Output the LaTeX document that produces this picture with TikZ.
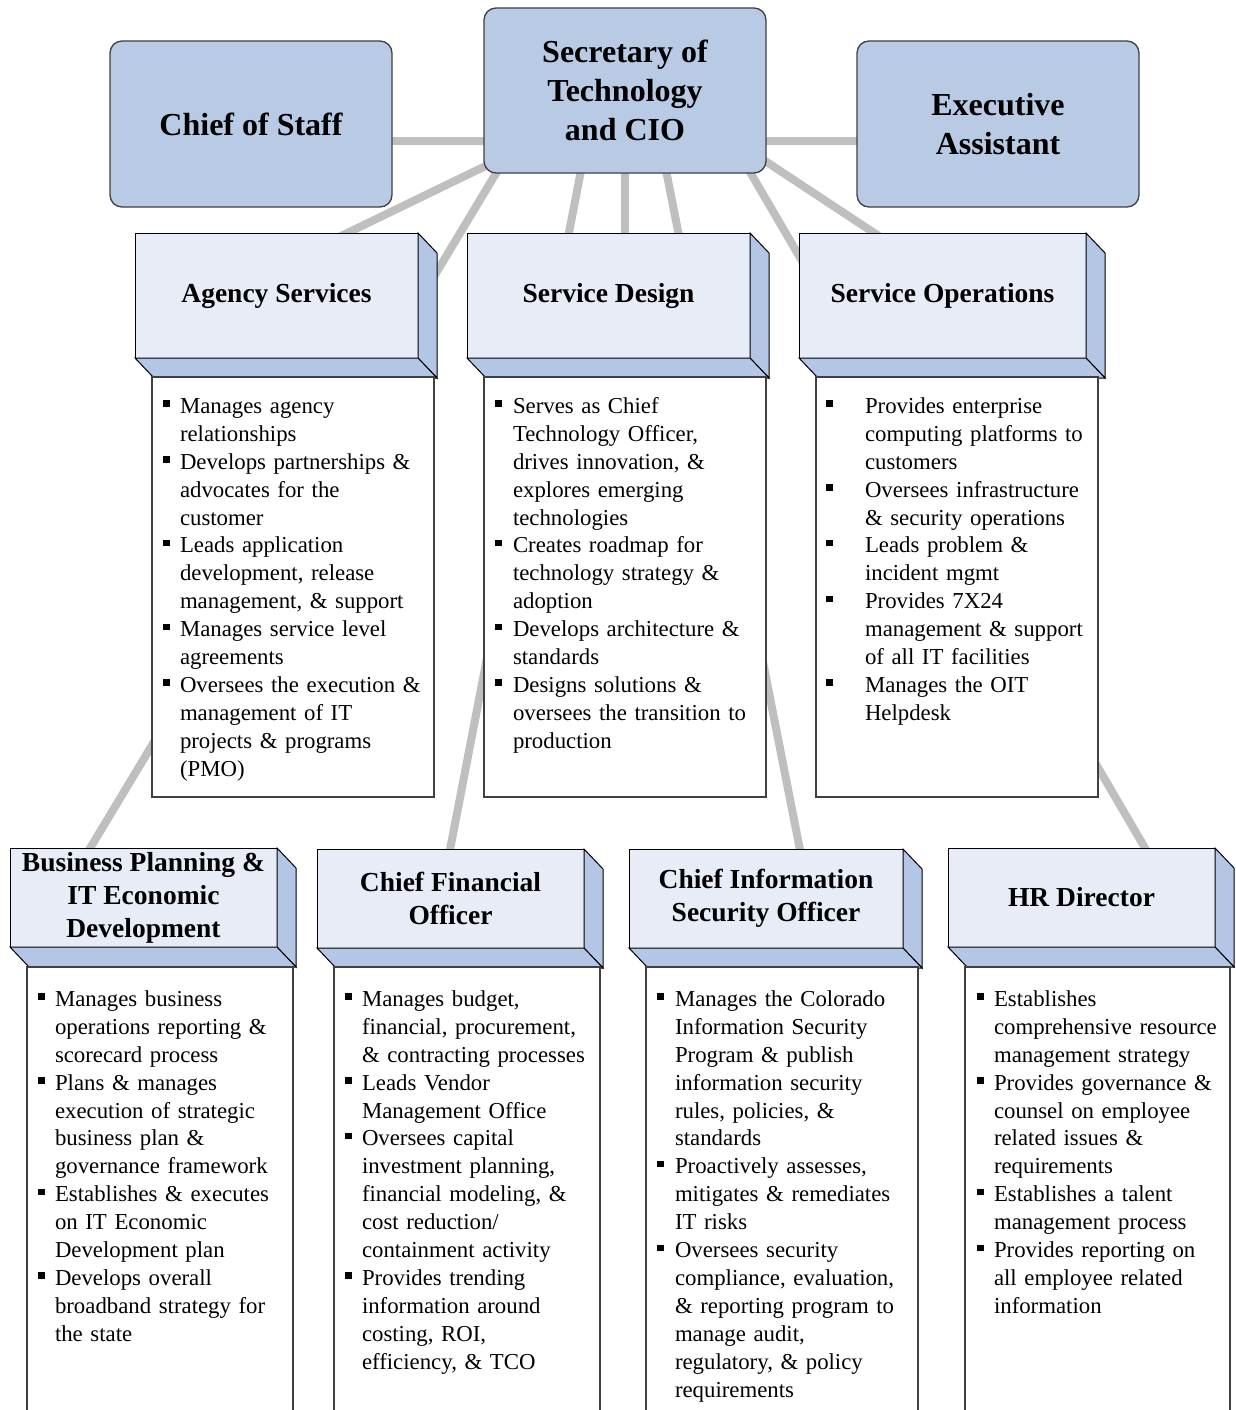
\documentclass[tikz,border=0pt]{standalone}
\usepackage{fontspec}
\setmainfont{Liberation Serif}
\usetikzlibrary{calc}
\definecolor{topfill}{HTML}{B8CAE4}
\definecolor{frontfill}{HTML}{E8ECF7}
\definecolor{sidefill}{HTML}{B3C6E6}
\definecolor{connc}{HTML}{BFBFBF}
\definecolor{edgec}{HTML}{404040}
\newlength\bind
\newcommand\bsq{\raisebox{6.5pt}{\rule{6.5pt}{6.5pt}}}
\newcommand\bitem[1]{\par\noindent\hangindent=\bind\hangafter=1\makebox[\bind][l]{\bsq}\strut#1}
\newcommand\depthfaces[1]{%
  \draw[face] (#1.north east) -- ($(#1.north east)+(19,20)$) -- ($(#1.south east)+(19,20)$) -- (#1.south east) -- cycle;
  \draw[face] (#1.south west) -- ($(#1.south west)+(19,20)$) -- ($(#1.south east)+(19,20)$) -- (#1.south east) -- cycle;}
\begin{document}
\begin{tikzpicture}[x=1pt,y=-1pt,
  conn/.style={draw=connc, line width=8pt},
  topbox/.style={draw=edgec, line width=1.3pt, fill=topfill, rounded corners=12pt, minimum width=282pt, minimum height=166pt, inner sep=0pt, outer sep=0pt, align=center, font=\bfseries\fontsize{32}{39}\selectfont},
  front/.style={draw=black, line width=1pt, fill=frontfill, inner sep=0pt, outer sep=0pt, align=center, font=\bfseries\fontsize{27.5}{33}\selectfont},
  face/.style={draw=black, line width=1pt, fill=sidefill, line join=miter},
  bbox/.style={draw=edgec, line width=1.3pt, fill=white, anchor=north west, inner sep=0pt, outer sep=0pt},
  blist/.style={anchor=north west, inner sep=0pt, outer sep=0pt, text width=320pt, font=\fontsize{22.8}{27.9}\selectfont}
]
\useasboundingbox (0,0) rectangle (1236,1410);
\clip (0,0) rectangle (1236,1410);
\fill[white] (0,0) rectangle (1236,1410);

% connector end points (hidden behind boxes)
\coordinate (h1a) at (380,141);  \coordinate (h1b) at (500,141);
\coordinate (h2a) at (750,141);  \coordinate (h2b) at (870,141);
\coordinate (s1) at (500,159);   \coordinate (e1) at (240,285);
\coordinate (s2) at (504,160);   \coordinate (e2) at (83,860);
\coordinate (s3) at (583,160);   \coordinate (e3) at (448,860);
\coordinate (s4) at (625,160);   \coordinate (e4) at (625,280);
\coordinate (s5) at (664,160);   \coordinate (e5) at (802,860);
\coordinate (s6) at (743,160);   \coordinate (e6) at (1152,860);
\coordinate (s7) at (750,151);   \coordinate (e7) at (950,283);
\draw[conn] (h1a) -- (h1b);
\draw[conn] (h2a) -- (h2b);
\draw[conn] (s1) -- (e1);
\draw[conn] (s2) -- (e2);
\draw[conn] (s3) -- (e3);
\draw[conn] (s4) -- (e4);
\draw[conn] (s5) -- (e5);
\draw[conn] (s6) -- (e6);
\draw[conn] (s7) -- (e7);

% top row
\node[topbox] (cos) at (251,124) {Chief of Staff};
\node[topbox, minimum height=165pt] (sec) at (625,90.5) {Secretary of\\Technology\\and CIO};
\node[topbox] (ea) at (998,124) {Executive\\Assistant};

% middle row
\node[front, minimum width=283pt, minimum height=125pt] (ags) at (276.5,295.5) {Agency Services};
\depthfaces{ags}
\node[front, minimum width=283pt, minimum height=125pt] (sd) at (608.5,295.5) {Service Design};
\depthfaces{sd}
\node[front, minimum width=287pt, minimum height=125pt] (so) at (942.5,295.5) {Service Operations};
\depthfaces{so}

\node[bbox, minimum width=282pt, minimum height=420pt] (agsb) at (152,377) {};
\node[bbox, minimum width=282pt, minimum height=420pt] (sdb) at (484,377) {};
\node[bbox, minimum width=282pt, minimum height=420pt] (sob) at (816,377) {};

\node[blist] (agsl) at (163,385.5) {\raggedright\setlength\parskip{0pt}\setlength\bind{17pt}%
\bitem{Manages agency\newline relationships}%
\bitem{Develops partnerships \&\newline advocates for the\newline customer}%
\bitem{Leads application\newline development, release\newline management, \& support}%
\bitem{Manages service level\newline agreements}%
\bitem{Oversees the execution \&\newline management of IT\newline projects \& programs\newline (PMO)}\par};

\node[blist] (sdl) at (495,385.5) {\raggedright\setlength\parskip{0pt}\setlength\bind{18pt}%
\bitem{Serves as Chief\newline Technology Officer,\newline drives innovation, \&\newline explores emerging\newline technologies}%
\bitem{Creates roadmap for\newline technology strategy \&\newline adoption}%
\bitem{Develops architecture \&\newline standards}%
\bitem{Designs solutions \&\newline oversees the transition to\newline production}\par};

\node[blist] (sol) at (826,385.5) {\raggedright\setlength\parskip{0pt}\setlength\bind{39pt}%
\bitem{Provides enterprise\newline computing platforms to\newline customers}%
\bitem{Oversees infrastructure\newline \& security operations}%
\bitem{Leads problem \&\newline incident mgmt}%
\bitem{Provides 7X24\newline management \& support\newline of all IT facilities}%
\bitem{Manages the OIT\newline Helpdesk}\par};

% bottom row
\node[front, minimum width=267pt, minimum height=99pt] (bp) at (143.5,897.5) {Business Planning \&\\IT Economic\\Development};
\depthfaces{bp}
\node[front, minimum width=267pt, minimum height=99pt] (cfo) at (450.5,898.5) {Chief Financial\\Officer};
\depthfaces{cfo}
\node[front, minimum width=274pt, minimum height=99pt] (ciso) at (766,898.5) {Chief Information\\Security Officer};
\depthfaces{ciso}
\node[front, minimum width=267pt, minimum height=99pt] (hr) at (1081.5,897.5) {HR Director};
\depthfaces{hr}

\node[bbox, minimum width=266pt, minimum height=470pt] (bpb) at (27,967) {};
\node[bbox, minimum width=266pt, minimum height=470pt] (cfob) at (334,967) {};
\node[bbox, minimum width=272pt, minimum height=470pt] (cisob) at (646,967) {};
\node[bbox, minimum width=265pt, minimum height=470pt] (hrb) at (965,967) {};

\node[blist] (bpl) at (38,978.5) {\raggedright\setlength\parskip{0pt}\setlength\bind{17pt}%
\bitem{Manages business\newline operations reporting \&\newline scorecard process}%
\bitem{Plans \& manages\newline execution of strategic\newline business plan \&\newline governance framework}%
\bitem{Establishes \& executes\newline on IT Economic\newline Development plan}%
\bitem{Develops overall\newline broadband strategy for\newline the state}\par};

\node[blist] (cfol) at (345,978.5) {\raggedright\setlength\parskip{0pt}\setlength\bind{17pt}%
\bitem{Manages budget,\newline financial, procurement,\newline \& contracting processes}%
\bitem{Leads Vendor\newline Management Office}%
\bitem{Oversees capital\newline investment planning,\newline financial modeling, \&\newline cost reduction/\newline containment activity}%
\bitem{Provides trending\newline information around\newline costing, ROI,\newline efficiency, \& TCO}\par};

\node[blist] (cisol) at (657,978.5) {\raggedright\setlength\parskip{0pt}\setlength\bind{18pt}%
\bitem{Manages the Colorado\newline Information Security\newline Program \& publish\newline information security\newline rules, policies, \&\newline standards}%
\bitem{Proactively assesses,\newline mitigates \& remediates\newline IT risks}%
\bitem{Oversees security\newline compliance, evaluation,\newline \& reporting program to\newline manage audit,\newline regulatory, \& policy\newline requirements}\par};

\node[blist] (hrl) at (977,978.5) {\raggedright\setlength\parskip{0pt}\setlength\bind{17pt}%
\bitem{Establishes\newline comprehensive resource\newline management strategy}%
\bitem{Provides governance \&\newline counsel on employee\newline related issues \&\newline requirements}%
\bitem{Establishes a talent\newline management process}%
\bitem{Provides reporting on\newline all employee related\newline information}\par};
\end{tikzpicture}
\end{document}
